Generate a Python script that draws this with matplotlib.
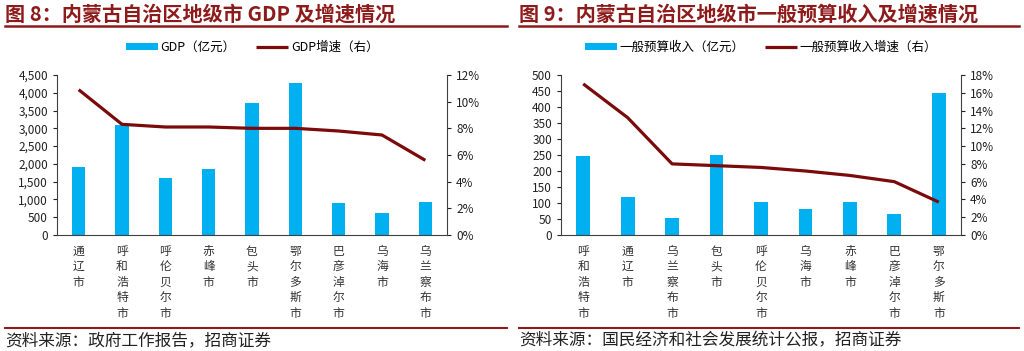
import matplotlib.pyplot as plt
import numpy as np
from matplotlib.ticker import FuncFormatter

plt.rcParams['font.family'] = ['Noto Sans CJK SC', 'DejaVu Sans']

# 图8 数据
gdp_cities = ["通辽市", "呼和浩特市", "呼伦贝尔市", "赤峰市", "包头市", "鄂尔多斯市", "巴彦淖尔市", "乌海市", "乌兰察布市"]
gdp_values = [1900, 3090, 1590, 1860, 3700, 4280, 890, 610, 920]
gdp_growth = [10.9, 8.3, 8.1, 8.1, 8.0, 8.0, 7.8, 7.5, 5.6]

# 图9 数据
rev_cities = ["呼和浩特市", "通辽市", "乌兰察布市", "包头市", "呼伦贝尔市", "乌海市", "赤峰市", "巴彦淖尔市", "鄂尔多斯市"]
rev_values = [247, 120, 54, 250, 102, 80, 102, 66, 445]
rev_growth = [17.0, 13.2, 8.0, 7.8, 7.6, 7.2, 6.7, 6.0, 3.7]

BAR = "#00B0F0"
LINE = "#7B0A0A"
RED = "#8E1B1B"
W, H = 1024, 351


def px(x0, y0, w, h):
    # pixel box (top-left origin) -> figure fraction
    return [x0 / W, (H - y0 - h) / H, w / W, h / H]


def panel(fig, left, right, cities, values, growth, ymax, ystep, rmax, rstep,
          title, bar_label, line_label, source, xleft, xright):
    # title + rules
    fig.text(xleft / W, 1 - 14 / H, title, fontsize=14.5, fontweight="bold",
             color=RED, va="center", ha="left")
    fig.add_artist(plt.Line2D([xleft / W, xright / W], [1 - 26 / H] * 2,
                              color=RED, lw=1.8))
    fig.add_artist(plt.Line2D([xleft / W, xright / W], [1 - 328 / H] * 2,
                              color=RED, lw=1.5))
    fig.text(xleft / W, 1 - 341 / H, source, fontsize=12, color="#222222",
             va="center", ha="left")

    ax = fig.add_axes(px(left, 75, right - left, 160))
    x = np.arange(len(cities))
    b = ax.bar(x, values, width=0.31, color=BAR, label=bar_label, zorder=2)
    ax.set_xlim(-0.5, len(cities) - 0.5)
    ax.set_ylim(0, ymax)
    ax.set_yticks(np.arange(0, ymax + 1, ystep))
    ax.yaxis.set_major_formatter(FuncFormatter(lambda v, p: f"{int(v):,}"))
    ax.set_xticks(x)
    ax.set_xticklabels(["\n".join(c) for c in cities], fontsize=8.5,
                       linespacing=1.25, color="#333333", va="top")
    ax.tick_params(axis="x", length=0, pad=7)
    ax.tick_params(axis="y", length=3, labelsize=8.5, colors="#222222")
    for s in ["top", "right"]:
        ax.spines[s].set_visible(False)
    for s in ["left", "bottom"]:
        ax.spines[s].set_color("#404040")

    ax2 = ax.twinx()
    l, = ax2.plot(x, growth, color=LINE, lw=2.3, label=line_label,
                  solid_capstyle="butt")
    ax2.set_ylim(0, rmax)
    ax2.set_yticks(np.arange(0, rmax + 0.1, rstep))
    ax2.yaxis.set_major_formatter(FuncFormatter(lambda v, p: f"{int(round(v))}%"))
    ax2.tick_params(axis="y", length=3, labelsize=8.5, colors="#222222")
    for s in ["top", "left", "bottom"]:
        ax2.spines[s].set_visible(False)
    ax2.spines["right"].set_color("#404040")

    ax.legend([b, l], [bar_label, line_label], ncol=2, frameon=False,
              loc="center", bbox_to_anchor=(0.5, 1 + 28 / 160), fontsize=9,
              handlelength=2.6, handleheight=0.5, columnspacing=1.6,
              handletextpad=0.2)


fig = plt.figure(figsize=(W / 100, H / 100), dpi=100)

panel(fig, 57, 447, gdp_cities, gdp_values, gdp_growth, 4500, 500, 12, 2,
      "图 8：内蒙古自治区地级市 GDP 及增速情况", "GDP（亿元）", "GDP增速（右）",
      "资料来源：政府工作报告，招商证券", 5, 507)
panel(fig, 561, 961, rev_cities, rev_values, rev_growth, 500, 50, 18, 2,
      "图 9：内蒙古自治区地级市一般预算收入及增速情况", "一般预算收入（亿元）",
      "一般预算收入增速（右）", "资料来源：国民经济和社会发展统计公报，招商证券", 519, 1019)

fig.savefig("out.png", dpi=100)
